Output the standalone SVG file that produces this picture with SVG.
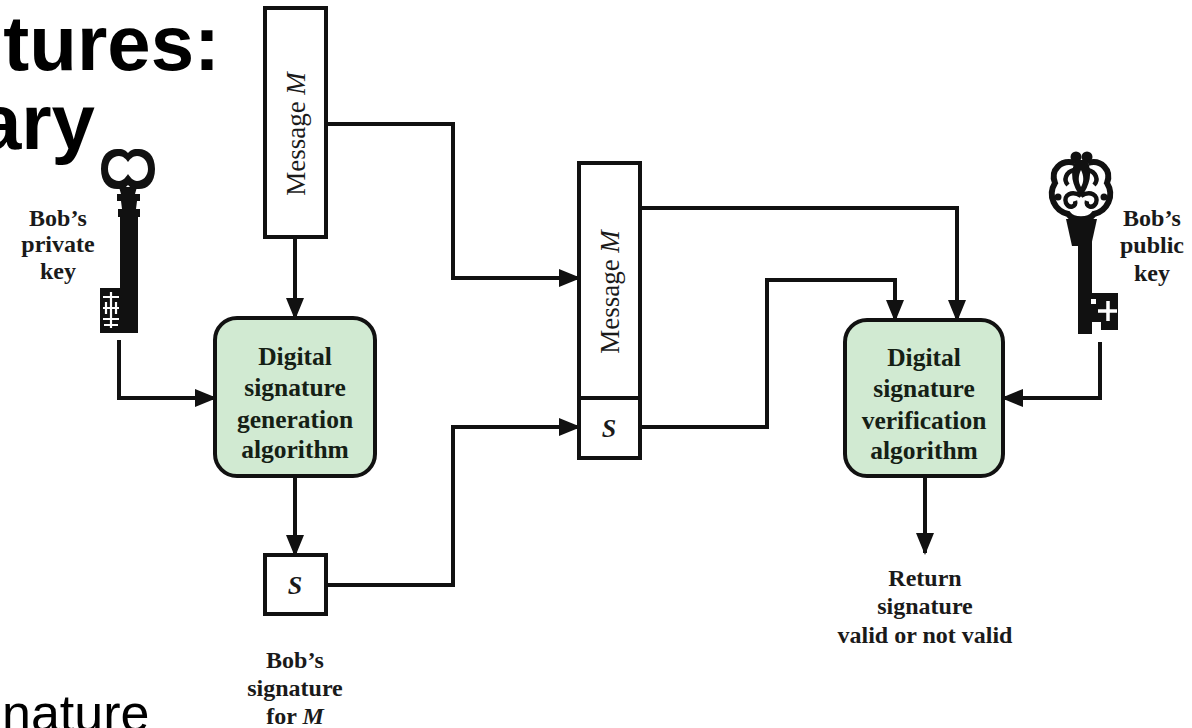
<svg xmlns="http://www.w3.org/2000/svg" width="1192" height="728" viewBox="0 0 1192 728">
  <style>
    .title { font-family: "Liberation Sans", Arial, sans-serif; font-weight: bold; font-size: 78px; fill: #000; }
    .body { font-family: "Liberation Sans", Arial, sans-serif; font-size: 52px; fill: #000; }
    .box { fill: #fff; stroke: #111; stroke-width: 4; }
    .algo { fill: #d1ead2; stroke: #111; stroke-width: 4; }
    .algo-text { font-family: "Liberation Serif", "Times New Roman", serif; font-weight: bold; font-size: 25.5px; fill: #152015; text-anchor: middle; }
    .label { font-family: "Liberation Serif", "Times New Roman", serif; font-weight: bold; font-size: 24px; fill: #1a1a1a; text-anchor: middle; }
    .msg { font-family: "Liberation Serif", "Times New Roman", serif; font-size: 27px; fill: #1a1a1a; text-anchor: middle; }
    .sig { font-family: "Liberation Serif", "Times New Roman", serif; font-style: italic; font-weight: bold; font-size: 26px; fill: #1a1a1a; text-anchor: middle; }
    .wire { fill: none; stroke: #111; stroke-width: 4; }
    .key { fill: #111; }
  </style>
  <defs>
    <marker id="arrow" markerUnits="userSpaceOnUse" viewBox="0 0 22 18" refX="20" refY="9" markerWidth="22" markerHeight="18" orient="auto">
      <path d="M0,0 L22,9 L0,18 Z" fill="#111"/>
    </marker>
  </defs>

  <rect width="1192" height="728" fill="#fff"/>

  <!-- slide title fragments and body text -->
  <text class="title" x="220" y="70" text-anchor="end">tures:</text>
  <text class="title" x="95" y="149" text-anchor="end">ary</text>
  <text class="body" x="2" y="731">nature</text>

  <!-- connectors -->
  <g id="connectors">
    <path class="wire" d="M295,237 V318" marker-end="url(#arrow)"/>
    <path class="wire" d="M295,476 V555" marker-end="url(#arrow)"/>
    <path class="wire" d="M326,124 H453 V278 H579" marker-end="url(#arrow)"/>
    <path class="wire" d="M326,585 H453 V427 H579" marker-end="url(#arrow)"/>
    <path class="wire" d="M119,340 V398 H215" marker-end="url(#arrow)"/>
    <path class="wire" d="M640,208 H957 V320" marker-end="url(#arrow)"/>
    <path class="wire" d="M640,427 H767 V280 H895 V320" marker-end="url(#arrow)"/>
    <path class="wire" d="M1100,342 V398 H1003" marker-end="url(#arrow)"/>
    <path class="wire" d="M925,476 V553" marker-end="url(#arrow)"/>
  </g>

  <!-- original message -->
  <g id="message-src">
    <rect class="box" x="265" y="8" width="61" height="229"/>
    <text class="msg" transform="translate(305,134) rotate(-90)">Message <tspan font-style="italic">M</tspan></text>
  </g>

  <!-- signing -->
  <g id="sign-algo">
    <rect class="algo" x="215" y="318" width="160" height="158" rx="22"/>
    <text class="algo-text" x="295" y="365">Digital</text>
    <text class="algo-text" x="295" y="396">signature</text>
    <text class="algo-text" x="295" y="428">generation</text>
    <text class="algo-text" x="295" y="458">algorithm</text>
  </g>

  <!-- signature output -->
  <g id="signature-src">
    <rect class="box" x="265" y="555" width="61" height="59"/>
    <text class="sig" x="295" y="594">S</text>
    <text class="label" x="295" y="668">Bob’s</text>
    <text class="label" x="295" y="696">signature</text>
    <text class="label" x="295" y="724">for <tspan font-style="italic">M</tspan></text>
  </g>

  <!-- message + signature bundle -->
  <g id="bundle">
    <rect class="box" x="579" y="163" width="61" height="295"/>
    <line x1="579" y1="398" x2="640" y2="398" stroke="#111" stroke-width="4"/>
    <text class="msg" transform="translate(619,292) rotate(-90)">Message <tspan font-style="italic">M</tspan></text>
    <text class="sig" x="609" y="437">S</text>
  </g>

  <!-- verification -->
  <g id="verify-algo">
    <rect class="algo" x="845" y="320" width="158" height="156" rx="22"/>
    <text class="algo-text" x="924" y="366">Digital</text>
    <text class="algo-text" x="924" y="397">signature</text>
    <text class="algo-text" x="924" y="429">verification</text>
    <text class="algo-text" x="924" y="459">algorithm</text>
  </g>

  <g id="result">
    <text class="label" x="925" y="586">Return</text>
    <text class="label" x="925" y="614">signature</text>
    <text class="label" x="925" y="643">valid or not valid</text>
  </g>

  <!-- private key -->
  <g id="private-key">
    <path class="key" fill-rule="evenodd" d="M101,169 C101,154 110,148 119,149 C124,149 126,151 128,153 C130,151 132,149 137,149 C146,148 155,154 155,169 C155,184 146,190 137,189 C132,189 130,187 128,185 C126,187 124,189 119,189 C110,190 101,184 101,169 Z M108,169 C108,161 113,156 119,156 C123,156 126,159 128,162 C130,159 133,156 137,156 C143,156 148,161 148,169 C148,176 143,181 137,181 C133,181 130,177 128,174 C126,177 123,181 119,181 C113,181 108,176 108,169 Z"/>
    <path class="key" d="M119,187 H137 L135,194 H140 V201 H137 L136,209 H140 V217 H118 V209 H122 L121,201 H117 V194 H121 Z"/>
    <rect class="key" x="120" y="215" width="18" height="118"/>
    <rect class="key" x="100" y="288" width="22" height="45"/>
    <g stroke="#fff" stroke-width="2.2" fill="none">
      <path d="M103,297 H119 M103,308 H119 M103,319 H119 M111,292 V328 M106,302 V314 M116,302 V314 M104,325 H118"/>
    </g>
  </g>
  <g id="private-key-label">
    <text class="label" x="58" y="226">Bob’s</text>
    <text class="label" x="58" y="252">private</text>
    <text class="label" x="58" y="279">key</text>
  </g>

  <!-- public key -->
  <g id="public-key">
    <circle class="key" cx="1076" cy="157" r="5.5"/>
    <circle class="key" cx="1087" cy="157" r="5.5"/>
    <path class="key" fill-rule="evenodd" d="M1076,160 C1069,172 1072,186 1081,197 C1090,186 1093,172 1087,160 Z M1081,170 C1078,176 1078,182 1081,187 C1084,182 1084,176 1081,170 Z"/>
    <path fill="none" stroke="#111" stroke-width="6" d="M1075,163 C1061,159 1050,170 1055,183 C1047,196 1055,211 1068,214 C1073,221 1089,221 1094,214 C1107,211 1115,196 1107,183 C1112,170 1101,159 1088,163"/>
    <path fill="none" stroke="#111" stroke-width="4.5" d="M1081,196 C1072,190 1063,195 1066,203 C1069,209 1077,207 1075,201 M1081,196 C1090,190 1099,195 1096,203 C1093,209 1085,207 1087,201 M1074,170 C1066,172 1063,180 1068,185 M1088,170 C1096,172 1099,180 1094,185"/>
    <circle class="key" cx="1058" cy="197" r="3.5"/>
    <circle class="key" cx="1104" cy="197" r="3.5"/>
    <path class="key" d="M1066,219 H1097 L1091,246 H1072 Z"/>
    <rect class="key" x="1078" y="240" width="14" height="94"/>
    <path class="key" d="M1091,293 H1118 V330 H1101 V322 H1091 Z"/>
    <path d="M1108,301 V321 M1098,311 H1117" stroke="#fff" stroke-width="3.5"/>
    <rect x="1091" y="299" width="5" height="5" fill="#fff"/>
  </g>
  <g id="public-key-label">
    <text class="label" x="1152" y="226">Bob’s</text>
    <text class="label" x="1152" y="253">public</text>
    <text class="label" x="1152" y="281">key</text>
  </g>
</svg>
